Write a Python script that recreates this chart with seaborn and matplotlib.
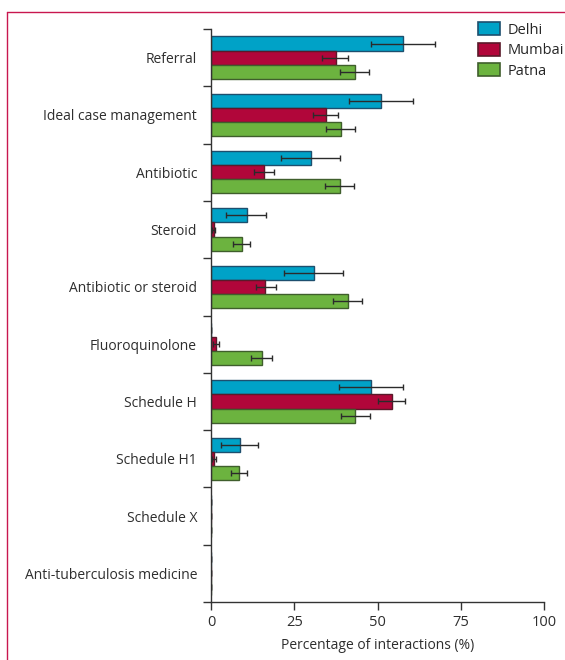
import numpy as np
import pandas as pd
import matplotlib
matplotlib.use("Agg")
import matplotlib.pyplot as plt
from matplotlib.lines import Line2D
from matplotlib.patches import Patch
import seaborn as sns

# --- Data ---
categories = [
    "Referral", "Ideal case management", "Antibiotic", "Steroid",
    "Antibiotic or steroid", "Fluoroquinolone", "Schedule H",
    "Schedule H1", "Schedule X", "Anti-tuberculosis medicine",
]
cities = ["Delhi", "Mumbai", "Patna"]

delhi = [57.8, 51.1, 29.9, 10.7, 30.9, 0.0, 48.1, 8.8, 0.0, 0.0]
delhi_lo = [48.1, 41.3, 20.9, 4.6, 21.9, 0.0, 38.5, 3.1, 0.0, 0.0]
delhi_hi = [67.3, 60.7, 38.7, 16.6, 39.7, 0.0, 57.7, 14.2, 0.0, 0.0]

mumbai = [37.4, 34.5, 16.0, 0.8, 16.3, 1.5, 54.4, 1.0, 0.0, 0.0]
mumbai_lo = [33.4, 30.6, 13.0, 0.3, 13.4, 0.5, 50.2, 0.3, 0.0, 0.0]
mumbai_hi = [41.2, 38.2, 18.9, 1.2, 19.4, 2.5, 58.4, 1.6, 0.0, 0.0]

patna = [43.1, 38.9, 38.7, 9.3, 41.0, 15.3, 43.2, 8.5, 0.0, 0.0]
patna_lo = [38.6, 34.5, 34.3, 6.7, 36.7, 12.1, 38.9, 5.9, 0.0, 0.0]
patna_hi = [47.5, 43.2, 42.9, 11.8, 45.4, 18.4, 47.7, 10.9, 0.0, 0.0]

fills = {"Delhi": "#00a2c7", "Mumbai": "#b1063a", "Patna": "#6cb33f"}
edges = {"Delhi": "#1d4f6e", "Mumbai": "#5a1a2a", "Patna": "#3f5e2c"}

df = pd.DataFrame({
    "Category": categories * 3,
    "City": np.repeat(cities, len(categories)),
    "Value": delhi + mumbai + patna,
    "Lo": delhi_lo + mumbai_lo + patna_lo,
    "Hi": delhi_hi + mumbai_hi + patna_hi,
})

sns.set_style("white")
plt.rcParams["font.family"] = ["Open Sans", "DejaVu Sans"]
plt.rcParams["font.size"] = 10

fig = plt.figure(figsize=(5.65, 6.6), dpi=100)
ax = fig.add_axes([211 / 565, 58 / 660, 333 / 565, 573 / 660])

sns.barplot(
    data=df, y="Category", x="Value", hue="City", order=categories,
    hue_order=cities, palette=fills, orient="h", width=0.74,
    saturation=1, errorbar=None, legend=False, ax=ax,
)

# bar outlines + asymmetric error bars from the interval arrays
for city, cont in zip(cities, ax.containers):
    sub = df[df["City"] == city].set_index("Category").loc[categories]
    for bar, (_, row) in zip(cont, sub.iterrows()):
        bar.set_edgecolor(edges[city])
        bar.set_linewidth(1.0)
        yc = bar.get_y() + bar.get_height() / 2
        ax.errorbar(
            row["Value"], yc,
            xerr=[[row["Value"] - row["Lo"]], [row["Hi"] - row["Value"]]],
            fmt="none", ecolor="#2b2b2b", elinewidth=1.0,
            capsize=2.2, capthick=1.0, zorder=5,
        )

ax.set_xlim(0, 100)
ax.set_ylim(9.5, -0.5)
ax.set_xticks([0, 25, 50, 75, 100])
ax.set_yticks(range(len(categories)))
ax.set_yticklabels(categories)
ax.set_yticks(np.arange(-0.5, 10, 1), minor=True)
ax.tick_params(axis="y", which="major", length=0, pad=10, labelsize=10, colors="#2e2e2e")
ax.tick_params(axis="y", which="minor", length=6, width=1, color="#333333", left=True)
ax.tick_params(axis="x", length=6, width=1, color="#333333", labelsize=10.5,
               labelcolor="#2e2e2e", bottom=True, pad=3)
ax.set_xlabel("Percentage of interactions (%)", fontsize=10, color="#2e2e2e", labelpad=6)
ax.set_ylabel("")
for s in ["top", "right"]:
    ax.spines[s].set_visible(False)
for s in ["left", "bottom"]:
    ax.spines[s].set_color("#333333")
    ax.spines[s].set_linewidth(1.0)

handles = [Patch(facecolor=fills[c], edgecolor=edges[c], linewidth=1.2, label=c) for c in cities]
fig.legend(handles=handles, loc="upper left", bbox_to_anchor=(478 / 565, 1 - 22 / 660),
           frameon=False, fontsize=10.5, handlelength=1.5, handleheight=1.0,
           handletextpad=0.5, labelspacing=0.35, borderaxespad=0, borderpad=0)

# page border (top and left rule)
fig.add_artist(Line2D([7 / 565, 1], [1 - 12 / 660] * 2, color="#c8174f", lw=1.0))
fig.add_artist(Line2D([7 / 565] * 2, [0, 1 - 12 / 660], color="#c8174f", lw=1.0))

fig.savefig("out.png", dpi=100)
